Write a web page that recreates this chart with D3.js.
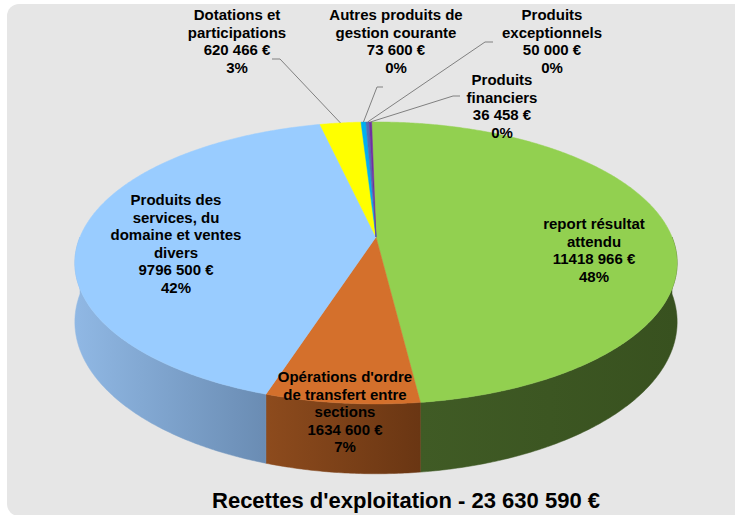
<!DOCTYPE html>
<html>
<head>
<meta charset="utf-8">
<script src="https://cdn.jsdelivr.net/npm/d3@7"></script>
<style>
  body { margin: 0; background: #ffffff; }
  svg { display: block; }
  text { font-family: "Liberation Sans", Arial, sans-serif; font-weight: bold; fill: #000; }
</style>
</head>
<body>
<svg id="chart" width="735" height="515"></svg>
<script>
// --- data ---
const names = [
    ["report résultat", "attendu"],
    ["Opérations d'ordre", "de transfert entre", "sections"],
    ["Produits des", "services, du", "domaine et ventes", "divers"],
    ["Dotations et", "participations"],
    ["Autres produits de", "gestion courante"],
    ["Produits", "exceptionnels"],
    ["Produits", "financiers"]
];
const values = [11418966, 1634600, 9796500, 620466, 73600, 50000, 36458];
const percents = [48, 7, 42, 3, 0, 0, 0];
const title = "Recettes d'exploitation - 23 630 590 €";

// --- styles ---
const topColors = ["#92D050", "#D4702C", "#99CCFF", "#FFFF00", "#00B0F0", "#4F6FB5", "#7030A0"];
const sideColors = [
    ["#405B25", "#38511F"],
    ["#8D4B1D", "#6A3613"],
    ["#90B8E4", "#6A8CB3"],
    ["#B3B300", "#999900"],
    ["#007BA8", "#006890"],
    ["#374E7F", "#2F436D"],
    ["#4E2270", "#431D60"]
];

// label layout: [centre x, first baseline]; leader elbows for outside labels
const labelPos = [[594, 229], [345, 382], [176, 205], [237, 20], [396, 20], [552, 20], [502, 85]];
const leaderElbows = [null, null, null, [[272, 59], [280, 59]], [[383, 87], [377, 87]], [[493, 42], [485, 42]], [[460, 96], [453, 96]]];

// --- pie geometry (perspective-tilted disc) ---
const CX = 376, CY = 237;   // projected centre of the disc
const R = 296, B = 136.2;   // horizontal / vertical radius factors
const K = 0.184;            // perspective strength
const D = 57;               // depth of the side
const LINE_H = 17.6;

function proj(theta, r, h) {
    const u = r * Math.sin(theta), v = r * Math.cos(theta);
    const p = 1 / (1 + K * v);
    return [CX + R * u * p, CY - B * v * p + h * D * p];
}

function arcPoints(a0, a1, h) {
    const n = Math.max(2, Math.ceil(Math.abs(a1 - a0) / (Math.PI / 360)));
    const pts = [];
    for (let i = 0; i <= n; i++) pts.push(proj(a0 + (a1 - a0) * i / n, 1, h));
    return pts;
}

const fmtMoney = v => {
    const th = Math.floor(v / 1000), rest = String(v % 1000).padStart(3, '0');
    return th + ' ' + rest + ' €';
};

const svg = d3.select('#chart');
const defs = svg.append('defs');

svg.append('rect')
    .attr('x', 7).attr('y', 4)
    .attr('width', 740).attr('height', 512)
    .attr('rx', 12)
    .attr('fill', '#E6E6E6');

const offset = -Math.PI / 180;
const pie = d3.pie().sort(null).value(d => d)
    .startAngle(offset).endAngle(2 * Math.PI + offset);
const arcs = pie(values);

const line = d3.line();
const g = svg.append('g');

// sides (front half only)
arcs.forEach((a, i) => {
    const s = Math.max(a.startAngle, Math.PI / 2);
    const e = Math.min(a.endAngle, 3 * Math.PI / 2);
    if (s >= e) return;
    const top = arcPoints(s, e, 0);
    const bottom = arcPoints(e, s, 1);
    const pts = top.concat(bottom);
    const xs = pts.map(p => p[0]);
    const gid = 'side' + i;
    const grad = defs.append('linearGradient')
        .attr('id', gid)
        .attr('gradientUnits', 'userSpaceOnUse')
        .attr('x1', d3.min(xs)).attr('x2', d3.max(xs))
        .attr('y1', 0).attr('y2', 0);
    grad.append('stop').attr('offset', 0).attr('stop-color', sideColors[i][0]);
    grad.append('stop').attr('offset', 1).attr('stop-color', sideColors[i][1]);
    g.append('path')
        .attr('d', line(pts) + 'Z')
        .attr('fill', `url(#${gid})`)
        .attr('stroke', `url(#${gid})`)
        .attr('stroke-width', 0.5);
});

// top faces
arcs.forEach((a, i) => {
    const pts = [[CX, CY]].concat(arcPoints(a.startAngle, a.endAngle, 0));
    g.append('path')
        .attr('d', line(pts) + 'Z')
        .attr('fill', topColors[i])
        .attr('stroke', topColors[i])
        .attr('stroke-width', 0.5);
});

// leader lines
arcs.forEach((a, i) => {
    if (!leaderElbows[i]) return;
    const mid = (a.startAngle + a.endAngle) / 2;
    const pts = leaderElbows[i].concat([proj(mid, 1, 0)]);
    g.append('path')
        .attr('d', line(pts))
        .attr('fill', 'none')
        .attr('stroke', '#808080')
        .attr('stroke-width', 1);
});

// labels
arcs.forEach((a, i) => {
    const lines = names[i].concat([fmtMoney(values[i]), percents[i] + '%']);
    const t = g.append('text')
        .attr('text-anchor', 'middle')
        .style('font-size', '15px');
    lines.forEach((s, j) => {
        t.append('tspan')
            .attr('x', labelPos[i][0])
            .attr('y', labelPos[i][1] + j * LINE_H)
            .text(s);
    });
});

svg.append('text')
    .attr('x', 406).attr('y', 508)
    .attr('text-anchor', 'middle')
    .style('font-size', '22px')
    .text(title);
</script>
</body>
</html>
